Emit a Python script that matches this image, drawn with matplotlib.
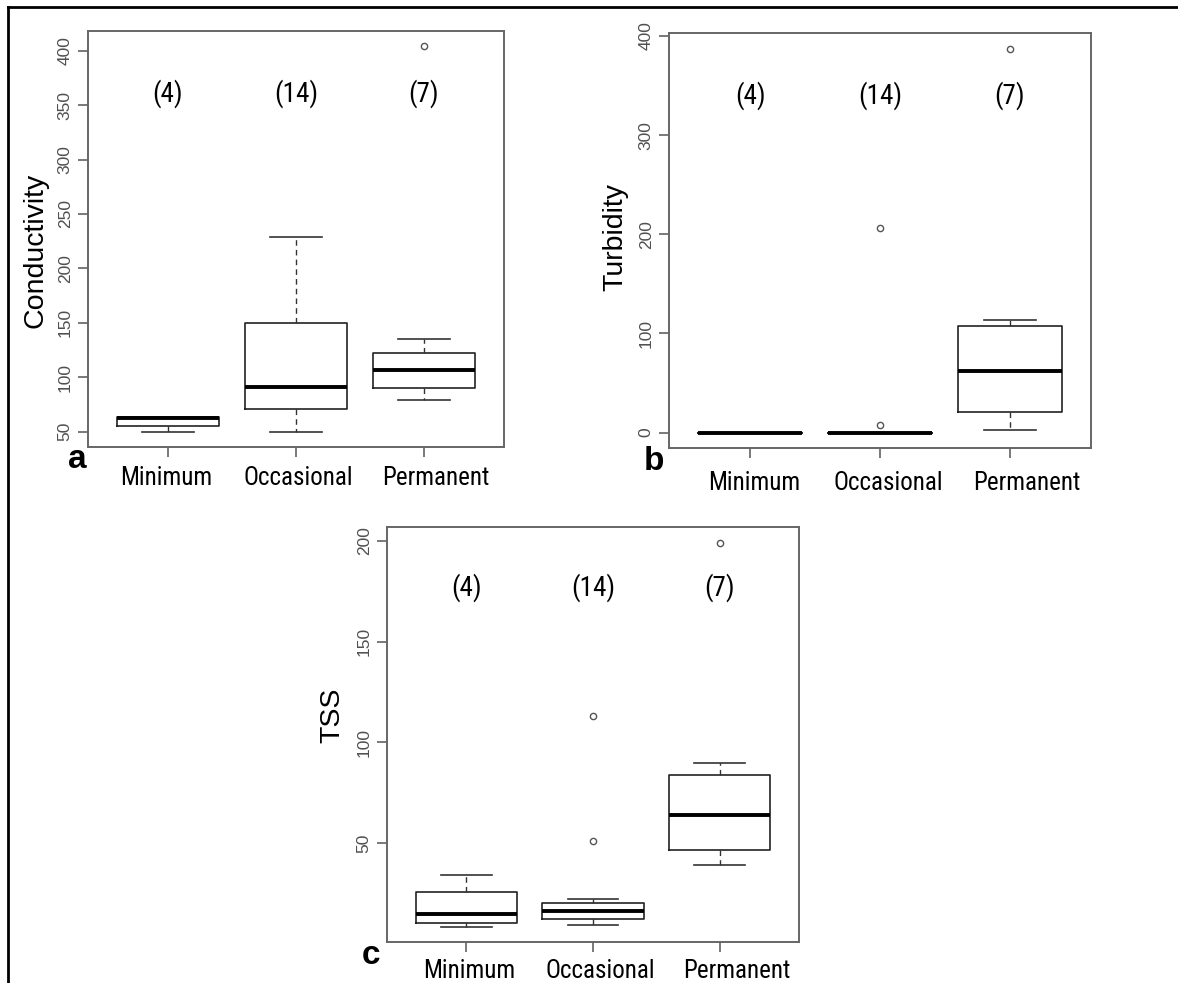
"""Boxplots of conductivity, turbidity and TSS by flow regime."""

import matplotlib
matplotlib.use("Agg")
import matplotlib.pyplot as plt
from matplotlib.lines import Line2D
from matplotlib import font_manager
from matplotlib.font_manager import FontProperties

categories = ["Minimum", "Occasional", "Permanent"]
counts = ["(4)", "(14)", "(7)"]

# five-number summaries per category: whislo, q1, median, q3, whishi
cond_stats = [
    [50, 55, 62, 63, 63],
    [50, 71, 91, 150, 229],
    [79, 90, 107, 122, 135],
]
cond_fliers = [[], [], [404]]

turb_stats = [
    [0, 0, 0, 0, 0],
    [0, 0, 0, 0, 0],
    [2.7, 21, 62, 108, 114],
]
turb_fliers = [[], [7.8, 206], [387]]

tss_stats = [
    [8.8, 10.8, 15, 26, 34.6],
    [9.8, 12.5, 16.5, 20.4, 22.6],
    [39.5, 46.7, 64, 84, 90],
]
tss_fliers = [[], [51, 113], [199]]

cond_ticks = [50, 100, 150, 200, 250, 300, 350, 400]
turb_ticks = [0, 100, 200, 300, 400]
tss_ticks = [50, 100, 150, 200]

W, H = 1178, 983


def pick_narrow_font():
    """Look for a condensed regular face; fall back to Liberation Sans."""
    prefs = ["Liberation Sans Narrow", "Roboto Condensed", "Open Sans Condensed",
             "Noto Sans", "DejaVu Sans", "Open Sans", "Roboto"]
    found = {}
    for f in font_manager.fontManager.ttflist:
        narrowish = (f.stretch not in ("normal", 500)) or ("Narrow" in f.name) \
            or ("Condensed" in f.name) or ("Condensed" in f.fname)
        if not narrowish or f.style != "normal":
            continue
        if f.weight not in (400, "normal", "regular"):
            continue
        if "Semi" in f.fname or "Extra" in f.fname or "Ultra" in f.fname:
            continue
        found.setdefault(f.name, f.fname)
    for name in prefs:
        if name in found:
            return found[name], True
    return None, False


narrow_path, has_narrow = pick_narrow_font()


def label_font(size):
    if has_narrow:
        return FontProperties(fname=narrow_path, size=size)
    return FontProperties(family="Liberation Sans", size=size * 0.9)


def px_rect(left, top, right, bottom):
    return [left / W, 1 - bottom / H, (right - left) / W, (bottom - top) / H]


def draw_panel(fig, rect, stats, fliers, ticks, ylim, ylabel, letter,
               count_y, ylab_xy, letter_xy, cat_y, cat_x):
    ax = fig.add_axes(px_rect(*rect))
    bxp_stats = []
    for s, fl in zip(stats, fliers):
        bxp_stats.append(dict(whislo=s[0], q1=s[1], med=s[2], q3=s[3],
                              whishi=s[4], fliers=fl))
    ax.bxp(bxp_stats, positions=[1, 2, 3], widths=0.8, capwidths=0.4,
           boxprops=dict(color="#222222", linewidth=1.2),
           medianprops=dict(color="black", linewidth=2.8, solid_capstyle="butt"),
           whiskerprops=dict(color="#333333", linewidth=1.0, linestyle=(0, (4, 3))),
           capprops=dict(color="#333333", linewidth=1.2),
           flierprops=dict(marker="o", markersize=4.5, markerfacecolor="none",
                           markeredgecolor="#555555", markeredgewidth=1.0))
    ax.set_xlim(0.375, 3.625)
    ax.set_ylim(*ylim)
    ax.set_xticks([1, 2, 3])
    ax.set_xticklabels([])
    ax.set_yticks(ticks)
    ax.set_yticklabels([str(t) for t in ticks], rotation=90, va="center",
                       fontsize=12.5, color="#505050", family="Liberation Sans")
    ax.tick_params(axis="both", length=7, width=1.1, color="#555555", pad=4)
    for sp in ax.spines.values():
        sp.set_color("#666666")
        sp.set_linewidth(1.4)

    for i, c in enumerate(counts):
        ax.text(i + 1, count_y, c, ha="center", va="center",
                fontproperties=label_font(19.5))

    fig.text(ylab_xy[0] / W, 1 - ylab_xy[1] / H, ylabel, rotation=90,
             ha="center", va="center", fontsize=20.5, family="Liberation Sans")
    fig.text(letter_xy[0] / W, 1 - letter_xy[1] / H, letter, ha="center",
             va="center", fontsize=24, fontweight="bold", family="Liberation Sans")
    for x, cat in zip(cat_x, categories):
        fig.text(x / W, 1 - cat_y / H, cat, ha="center", va="center",
                 fontproperties=label_font(18))
    return ax


fig = plt.figure(figsize=(W / 100, H / 100), dpi=100)

draw_panel(fig, (88, 31, 504, 447), cond_stats, cond_fliers, cond_ticks,
           (35.8, 418.2), "Conductivity", "a", 361,
           (36, 250), (77, 460), 478, (166, 298, 436))

draw_panel(fig, (669, 33, 1091, 448), turb_stats, turb_fliers, turb_ticks,
           (-15.5, 403), "Turbidity", "b", 340,
           (615, 237), (654, 462), 483, (754, 888, 1027))

draw_panel(fig, (387, 527, 799, 942), tss_stats, tss_fliers, tss_ticks,
           (1.2, 206.7), "TSS", "c", 176.5,
           (332, 715), (371, 955), 971, (469, 600, 737))

# frame lines along the top and left edge
fig.add_artist(Line2D([8 / W, 1.0], [1 - 7 / H, 1 - 7 / H], color="black",
                      linewidth=2.0, transform=fig.transFigure))
fig.add_artist(Line2D([8 / W, 8 / W], [1 - 7 / H, 0.0], color="black",
                      linewidth=2.0, transform=fig.transFigure))

fig.savefig("out.png", dpi=100)
